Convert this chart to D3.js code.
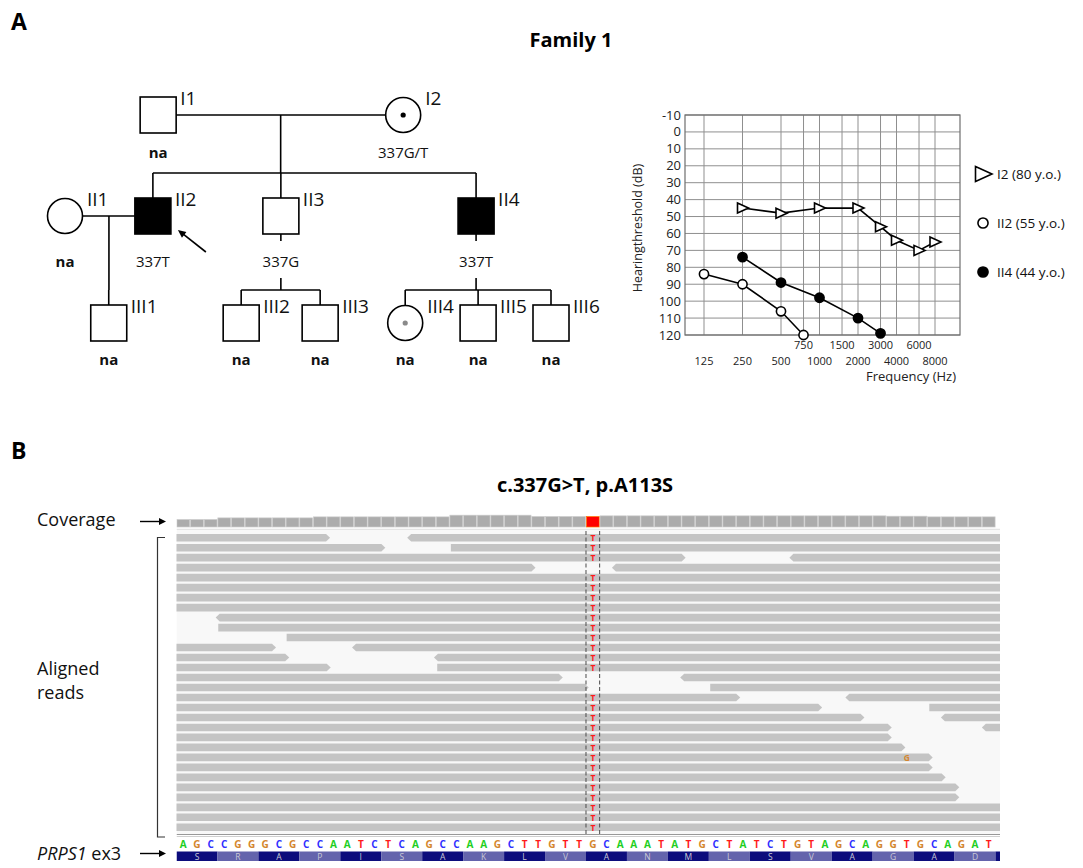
<!DOCTYPE html>
<html>
<head>
<meta charset="utf-8">
<script src="https://cdn.jsdelivr.net/npm/d3@7"></script>
<style>
  body { margin: 0; background: #fff; }
  svg { display: block; }
  text { font-family: 'Open Sans', sans-serif; }
</style>
</head>
<body>
<svg id="fig" width="1083" height="868"></svg>
<script>
// ---------------- data: pedigree ----------------
const pedIds    = ['I1', 'I2', 'II1', 'II2', 'II3', 'II4', 'III1', 'III2', 'III3', 'III4', 'III5', 'III6'];
const pedGen    = [1, 1, 2, 2, 2, 2, 3, 3, 3, 3, 3, 3];
const pedSex    = ['M', 'F', 'F', 'M', 'M', 'M', 'M', 'M', 'M', 'F', 'M', 'M'];
const pedStatus = ['normal', 'carrier', 'normal', 'affected', 'normal', 'affected', 'normal', 'normal', 'normal', 'possible', 'normal', 'normal'];
const pedGeno   = ['na', '337G/T', 'na', '337T', '337G', '337T', 'na', 'na', 'na', 'na', 'na', 'na'];
const proband   = 'II2';
const couples   = [['I1', 'I2'], ['II1', 'II2']];
const sibships  = [
  { parents: ['I1', 'I2'], kids: ['II2', 'II3', 'II4'] },
  { parents: ['II1', 'II2'], kids: ['III1'] },
  { parents: ['II3'], kids: ['III2', 'III3'] },
  { parents: ['II4'], kids: ['III4', 'III5', 'III6'] }
];
// layout column of each person (pedigree drawing grid)
const pedCol = [2.3, 8.35, 0, 2.17, 5.33, 10.15, 1.08, 4.35, 6.3, 8.4, 10.2, 12];

// ---------------- data: audiogram ----------------
const freqTicks  = [125, 250, 500, 750, 1000, 1500, 2000, 3000, 4000, 6000, 8000];
const freqUpper  = [750, 1500, 3000, 6000];
const dbTicks    = [-10, 0, 10, 20, 30, 40, 50, 60, 70, 80, 90, 100, 110, 120];
const i2Freq  = [250, 500, 1000, 2000, 3000, 4000, 6000, 8000];
const i2Db    = [45, 48, 45, 45, 56, 64, 70, 65];
const ii2Freq = [125, 250, 500, 750];
const ii2Db   = [84, 90, 106, 120];
const ii4Freq = [250, 500, 1000, 2000, 3000];
const ii4Db   = [74, 89, 98, 110, 119];
const legendNames = ['I2', 'II2', 'II4'];
const legendAges  = [80, 55, 44];

// ---------------- data: IGV view ----------------
const refSeq = 'AGCCGGGCGCCAATCTCAGCCAAGCTTGTTGCAAATATGCTATCTGTAGCAGGTGCAGAT'.split('');
const aminoAcids = ['S', 'R', 'A', 'P', 'I', 'S', 'A', 'K', 'L', 'V', 'A', 'N', 'M', 'L', 'S', 'V', 'A', 'G', 'A', 'D'];
const coverage = [22, 22, 22, 27, 27, 27, 27, 27, 27, 27,
                  30, 30, 30, 30, 30, 30, 30, 30, 30, 30,
                  35, 35, 35, 35, 35, 35, 31, 31, 31, 31,
                  31, 33, 33, 33, 33, 33, 33, 33, 33, 33,
                  33, 33, 33, 33, 33, 33, 33, 33, 33, 33,
                  33, 33, 32, 32, 32, 30, 30, 30, 30, 30];
const variantPos = 30;     // c.337 inside this window
const variantAlt = 'T';
// reads per row: [start, end, strand] in window base coordinates
const readRows = [
  [[-10, 11.25, '+'], [16.9, 70, '-']],
  [[-10, 15.3, '+'], [20.1, 70, '+']],
  [[-10, 37.3, '+'], [44.9, 70, '-']],
  [[-10, 26.3, '+'], [31.9, 70, '-']],
  [[-10, 70, '+']],
  [[-10, 70, '+']],
  [[-10, 70, '+']],
  [[-10, 70, '+']],
  [[2.87, 70, '-']],
  [[3.06, 70, '+']],
  [[8.07, 70, '+']],
  [[-10, 7.29, '+'], [12.86, 70, '-']],
  [[-10, 8.26, '+'], [18.86, 70, '-']],
  [[-10, 11.3, '+'], [19.1, 70, '+']],
  [[-10, 28.3, '+'], [36.9, 70, '-']],
  [[-10, 30.2, '+'], [39.1, 70, '+']],
  [[-10, 41.3, '+'], [49, 70, '-']],
  [[-10, 47.3, '+'], [55.15, 70, '+']],
  [[-10, 50.4, '+'], [56, 70, '-']],
  [[-10, 52.4, '+'], [59, 70, '-']],
  [[-10, 52.4, '+']],
  [[-10, 53.4, '+']],
  [[-10, 55.4, '+']],
  [[-10, 55.4, '+']],
  [[-10, 56.35, '+']],
  [[-10, 57.35, '+']],
  [[-10, 57.35, '+']],
  [[-10, 70, '+']],
  [[-10, 70, '+']],
  [[-10, 70, '+']]
];
const mismatches = [{ row: 22, pos: 53, base: 'G' }];
const baseColor = { A: '#1fcf1f', C: '#2f2fff', G: '#d4862e', T: '#ff1a1a' };

const svg = d3.select('#fig');
svg.append('rect').attr('width', 1083).attr('height', 868).attr('fill', '#fff');

// panel letters and titles
svg.append('text').attr('x', 11).attr('y', 30).attr('font-size', 23).attr('font-weight', 700).text('A');
svg.append('text').attr('x', 11).attr('y', 459).attr('font-size', 23).attr('font-weight', 700).text('B');
svg.append('text').attr('x', 571).attr('y', 47).attr('text-anchor', 'middle')
  .attr('font-size', 20).attr('font-weight', 700).text('Family 1');
svg.append('text').attr('x', 585).attr('y', 492).attr('text-anchor', 'middle')
  .attr('font-size', 20).attr('font-weight', 700).text('c.337G>T, p.A113S');

// ================= PEDIGREE =================
const ped = pedIds.map((id, i) => ({
  id, gen: pedGen[i], sex: pedSex[i], status: pedStatus[i], geno: pedGeno[i], col: pedCol[i]
}));
const byId = Object.fromEntries(ped.map(d => [d.id, d]));
const px = d3.scaleLinear().domain([0, 12]).range([65, 551]);
const gy = d3.scaleOrdinal().domain([1, 2, 3]).range([115, 216, 323]);
const genoOffset = { 1: 43, 2: 51, 3: 42 };
const sibGap = { 2: 25, 3: 15 };
const half = 18, rad = 17.5;

const pLines = svg.append('g').attr('stroke', '#000').attr('stroke-width', 1.6).attr('fill', 'none');
const seg = (x1, y1, x2, y2) => pLines.append('line').attr('x1', x1).attr('y1', y1).attr('x2', x2).attr('y2', y2);

couples.forEach(([a, b]) => {
  const A = byId[a], B = byId[b];
  const y = gy(A.gen);
  const xa = px(A.col), xb = px(B.col);
  seg(Math.min(xa, xb) + half, y, Math.max(xa, xb) - half, y);
});

sibships.forEach(s => {
  const parents = s.parents.map(id => byId[id]);
  const kids = s.kids.map(id => byId[id]);
  const kidTop = gy(kids[0].gen) - half;
  const barY = kidTop - sibGap[kids[0].gen];
  let dx, fromY;
  if (parents.length === 2) {
    dx = d3.mean(parents, p => px(p.col));
    fromY = gy(parents[0].gen);
  } else {
    const p = parents[0];
    dx = px(p.col);
    seg(dx, gy(p.gen) + half, dx, gy(p.gen) + half + 7);
    fromY = barY - 12;
  }
  seg(dx, fromY, dx, barY);
  const xs = kids.map(k => px(k.col)).concat([dx]);
  if (kids.length > 1) seg(d3.min(xs), barY, d3.max(xs), barY);
  kids.forEach(k => seg(px(k.col), barY, px(k.col), kidTop));
});

const sym = svg.append('g').selectAll('g').data(ped).join('g')
  .attr('transform', d => `translate(${px(d.col)},${gy(d.gen)})`);
sym.filter(d => d.sex === 'M').append('rect')
  .attr('x', -half).attr('y', -half).attr('width', 2 * half).attr('height', 2 * half)
  .attr('fill', d => d.status === 'affected' ? '#000' : '#fff').attr('stroke', '#000').attr('stroke-width', 1.6);
sym.filter(d => d.sex === 'F').append('circle')
  .attr('r', rad).attr('fill', d => d.status === 'affected' ? '#000' : '#fff').attr('stroke', '#000').attr('stroke-width', 1.6);
sym.filter(d => d.status === 'carrier' || d.status === 'possible').append('circle')
  .attr('r', 2.6).attr('fill', d => d.status === 'carrier' ? '#000' : '#8a8a8a');
sym.append('text').attr('x', 22).attr('y', -10)
  .attr('font-family', "'Liberation Sans Narrow','DejaVu Sans Condensed',sans-serif")
  .attr('font-size', 19).attr('fill', '#111').text(d => d.id);
sym.append('text').attr('x', 0).attr('y', d => genoOffset[d.gen])
  .attr('text-anchor', 'middle')
  .attr('font-family', "'Liberation Sans','Arial',sans-serif")
  .attr('font-size', 15)
  .attr('font-weight', d => d.geno === 'na' ? 700 : 400)
  .attr('fill', '#111').text(d => d.geno);

// proband arrow
{
  const p = byId[proband];
  const cx = px(p.col), cy = gy(p.gen);
  const tip = [cx + 25, cy + 14], tail = [cx + 53, cy + 36];
  const ang = Math.atan2(tail[1] - tip[1], tail[0] - tip[0]);
  svg.append('line').attr('x1', tail[0]).attr('y1', tail[1])
    .attr('x2', tip[0] + 6 * Math.cos(ang)).attr('y2', tip[1] + 6 * Math.sin(ang))
    .attr('stroke', '#000').attr('stroke-width', 1.6);
  const hw = 3.6, hl = 8;
  const b = [tip[0] + hl * Math.cos(ang), tip[1] + hl * Math.sin(ang)];
  svg.append('path').attr('fill', '#000').attr('d',
    `M${tip[0]},${tip[1]}L${b[0] - hw * Math.sin(ang)},${b[1] + hw * Math.cos(ang)}L${b[0] + hw * Math.sin(ang)},${b[1] - hw * Math.cos(ang)}Z`);
}

// ================= AUDIOGRAM =================
const plot = { left: 685, right: 960, top: 115, bottom: 335 };
const ax = d3.scaleLog().domain([125, 8000]).range([704, 935]);
const ay = d3.scaleLinear().domain([-10, 120]).range([plot.top, plot.bottom]);
const aud = svg.append('g');

aud.append('g').selectAll('line').data(dbTicks).join('line')
  .attr('x1', plot.left).attr('x2', plot.right).attr('y1', d => ay(d)).attr('y2', d => ay(d))
  .attr('stroke', '#8f8f8f').attr('stroke-width', 1);
aud.append('g').selectAll('line').data(freqTicks).join('line')
  .attr('x1', d => ax(d)).attr('x2', d => ax(d)).attr('y1', plot.top).attr('y2', plot.bottom)
  .attr('stroke', '#8f8f8f').attr('stroke-width', 1);
aud.append('rect').attr('x', plot.left).attr('y', plot.top)
  .attr('width', plot.right - plot.left).attr('height', plot.bottom - plot.top)
  .attr('fill', 'none').attr('stroke', '#6e6e6e').attr('stroke-width', 1.2);

aud.append('g').selectAll('text').data(dbTicks).join('text')
  .attr('x', plot.left - 4).attr('y', d => ay(d) + 4.5).attr('text-anchor', 'end')
  .attr('font-size', 13).attr('fill', '#222').text(d => d);
aud.append('g').selectAll('text').data(freqTicks).join('text')
  .attr('x', d => ax(d)).attr('y', d => freqUpper.includes(d) ? 349 : 364.5).attr('text-anchor', 'middle')
  .attr('font-size', 11).attr('fill', '#222').text(d => d);
aud.append('text').attr('x', 956).attr('y', 381).attr('text-anchor', 'end')
  .attr('font-size', 13).attr('fill', '#222').text('Frequency (Hz)');
aud.append('text').attr('transform', 'translate(642,228) rotate(-90)').attr('text-anchor', 'middle')
  .attr('font-size', 12.5).attr('fill', '#222').text('Hearingthreshold (dB)');

const series = [
  { name: 'I2', marker: 'tri', pts: i2Freq.map((f, i) => [f, i2Db[i]]) },
  { name: 'II2', marker: 'open', pts: ii2Freq.map((f, i) => [f, ii2Db[i]]) },
  { name: 'II4', marker: 'fill', pts: ii4Freq.map((f, i) => [f, ii4Db[i]]) }
];
const line = d3.line().x(d => ax(d[0])).y(d => ay(d[1]));
const triPath = (x, y, s) => `M${x - 5 * s},${y - 5 * s}L${x + 6 * s},${y}L${x - 5 * s},${y + 5 * s}Z`;

function drawMarker(g, kind, x, y, s) {
  if (kind === 'tri') {
    g.append('path').attr('d', triPath(x, y, s)).attr('fill', '#fff').attr('stroke', '#000').attr('stroke-width', 1.6);
  } else {
    g.append('circle').attr('cx', x).attr('cy', y).attr('r', 4.6 * s)
      .attr('fill', kind === 'fill' ? '#000' : '#fff').attr('stroke', '#000').attr('stroke-width', 1.6);
  }
}

series.forEach(s => {
  aud.append('path').attr('d', line(s.pts)).attr('fill', 'none').attr('stroke', '#000').attr('stroke-width', 1.6);
  s.pts.forEach(p => drawMarker(aud, s.marker, ax(p[0]), ay(p[1]), 1));
});

// legend
const legY = d3.scalePoint().domain(legendNames).range([174, 272]);
series.forEach((s, i) => {
  const y = legY(s.name);
  drawMarker(aud, s.marker, 983, y, s.marker === 'tri' ? 1.5 : 1.1);
  aud.append('text').attr('x', 997).attr('y', y + 5).attr('font-size', 13.5).attr('fill', '#111')
    .text(`${legendNames[i]} (${legendAges[i]} y.o.)`);
});

// ================= IGV VIEW =================
const xg = d3.scaleLinear().domain([0, 60.33]).range([176.5, 1000]);
const yRow = d3.scaleLinear().domain([0, readRows.length - 1]).range([537.7, 827.3]);
const yCov = d3.scaleLinear().domain([0, 40]).range([527, 513.5]);
const view = { top: 531, bottom: 834 };

svg.append('defs').append('clipPath').attr('id', 'clipView')
  .append('rect').attr('x', xg(0)).attr('y', 500).attr('width', xg.range()[1] - xg(0)).attr('height', 368);
const igv = svg.append('g').attr('clip-path', 'url(#clipView)');

// coverage track
igv.append('g').selectAll('rect').data(coverage).join('rect')
  .attr('x', (d, i) => xg(i) + 0.4).attr('width', xg(1) - xg(0) - 0.8)
  .attr('y', d => yCov(d)).attr('height', d => yCov(0) - yCov(d))
  .attr('fill', (d, i) => i === variantPos ? '#ff0000' : '#acacac')
  .attr('stroke', (d, i) => i === variantPos ? '#ff7a00' : '#cbcbcb').attr('stroke-width', 0.7);

// reads panel background
igv.append('line').attr('x1', xg(0)).attr('x2', 1000).attr('y1', 529.5).attr('y2', 529.5)
  .attr('stroke', '#e4e4e4').attr('stroke-width', 1.5);
igv.append('rect').attr('x', xg(0)).attr('y', view.top).attr('width', 1000 - xg(0))
  .attr('height', view.bottom - view.top).attr('fill', '#f8f8f8');

const reads = [];
readRows.forEach((row, r) => row.forEach(([s, e, strand]) => reads.push({ row: r, s, e, strand })));
const rh = 3.8, tipW = 4;
function readPath(d) {
  const x0 = xg(d.s), x1 = xg(d.e), y = yRow(d.row);
  if (d.strand === '+')
    return `M${x0},${y - rh}H${x1 - tipW}L${x1},${y}L${x1 - tipW},${y + rh}H${x0}Z`;
  return `M${x0 + tipW},${y - rh}H${x1}V${y + rh}H${x0 + tipW}L${x0},${y}Z`;
}
igv.append('g').selectAll('path').data(reads).join('path')
  .attr('d', readPath).attr('fill', '#c4c4c4');

// variant column
[variantPos, variantPos + 1].forEach(p => {
  igv.append('line').attr('x1', xg(p)).attr('x2', xg(p)).attr('y1', view.top).attr('y2', view.bottom + 2)
    .attr('stroke', '#4a4a4a').attr('stroke-width', 1).attr('stroke-dasharray', '4,2.5');
});
const altReads = reads.filter(d => d.s <= variantPos && d.e >= variantPos + 1);
igv.append('g').selectAll('text').data(altReads).join('text')
  .attr('x', xg(variantPos + 0.5)).attr('y', d => yRow(d.row) + 3.2).attr('text-anchor', 'middle')
  .attr('font-family', 'DejaVu Sans, sans-serif').attr('font-size', 8.4).attr('font-weight', 700)
  .attr('fill', baseColor[variantAlt]).text(variantAlt);
igv.append('g').selectAll('text').data(mismatches).join('text')
  .attr('x', d => xg(d.pos + 0.5)).attr('y', d => yRow(d.row) + 3.2).attr('text-anchor', 'middle')
  .attr('font-family', 'DejaVu Sans, sans-serif').attr('font-size', 8.4).attr('font-weight', 700)
  .attr('fill', d => baseColor[d.base]).text(d => d.base);

// separator and reference sequence
igv.append('line').attr('x1', xg(0)).attr('x2', 1000).attr('y1', 834.5).attr('y2', 834.5).attr('stroke', '#999');
igv.append('line').attr('x1', xg(0)).attr('x2', 1000).attr('y1', 836.5).attr('y2', 836.5).attr('stroke', '#cfcfcf');
igv.append('g').selectAll('text').data(refSeq).join('text')
  .attr('x', (d, i) => xg(i + 0.5)).attr('y', 847.5).attr('text-anchor', 'middle')
  .attr('font-family', 'DejaVu Sans, sans-serif').attr('font-size', 10).attr('font-weight', 700)
  .attr('fill', d => baseColor[d]).text(d => d);

const codons = d3.range(Math.ceil(xg.domain()[1] / 3));
igv.append('g').selectAll('rect').data(codons).join('rect')
  .attr('x', i => xg(i * 3)).attr('width', xg(3) - xg(0)).attr('y', 851.5).attr('height', 9.5)
  .attr('fill', i => i % 2 === 0 ? '#0c0c7c' : '#6464ac');
igv.append('g').selectAll('text').data(aminoAcids).join('text')
  .attr('x', (d, i) => xg(i * 3 + 1.5)).attr('y', 859.5).attr('text-anchor', 'middle')
  .attr('font-family', 'DejaVu Sans, sans-serif').attr('font-size', 8.5)
  .attr('fill', '#c9c9d6').text(d => d);

// left-side labels
const lab = svg.append('g').attr('fill', '#111');
lab.append('text').attr('x', 37).attr('y', 526).attr('font-size', 18).text('Coverage');
lab.append('text').attr('x', 37).attr('y', 675).attr('font-size', 18).text('Aligned');
lab.append('text').attr('x', 37).attr('y', 699).attr('font-size', 18).text('reads');
const prps = lab.append('text').attr('x', 37).attr('y', 860).attr('font-size', 18);
prps.append('tspan').attr('font-style', 'italic').text('PRPS1');
prps.append('tspan').text(' ex3');

function smallArrow(y) {
  svg.append('line').attr('x1', 140).attr('x2', 161).attr('y1', y).attr('y2', y)
    .attr('stroke', '#000').attr('stroke-width', 1.4);
  svg.append('path').attr('d', `M166,${y}L159,${y - 3.5}L159,${y + 3.5}Z`).attr('fill', '#000');
}
smallArrow(521.5);
smallArrow(853.5);
svg.append('path').attr('d', 'M165,537.5H157.5V837H165')
  .attr('fill', 'none').attr('stroke', '#333').attr('stroke-width', 1.2);
</script>
</body>
</html>
